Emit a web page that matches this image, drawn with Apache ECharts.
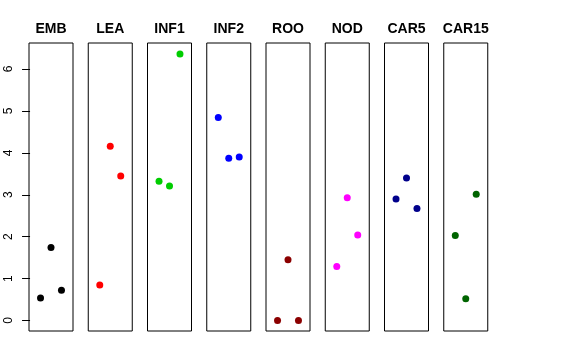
<!DOCTYPE html>
<html><head><meta charset="utf-8">
<script src="https://cdn.jsdelivr.net/npm/echarts@6/dist/echarts.min.js"></script>
<style>html,body{margin:0;padding:0;background:#fff}#c{width:576px;height:360px}</style>
</head><body><div id="c"></div>
<script>
const panels = ["EMB","LEA","INF1","INF2","ROO","NOD","CAR5","CAR15"];
const xPos = [1, 2, 3];
const EMB = [0.54, 1.74, 0.72];
const LEA = [0.85, 4.16, 3.45];
const INF1 = [3.32, 3.21, 6.36];
const INF2 = [4.84, 3.87, 3.90];
const ROO = [0.0, 1.45, 0.0];
const NOD = [1.29, 2.93, 2.04];
const CAR5 = [2.90, 3.40, 2.67];
const CAR15 = [2.03, 0.52, 3.01];
const yTicks = [0, 1, 2, 3, 4, 5, 6];
const colors = ["#000000","#FF0000","#00CD00","#0000FF","#8B0000","#FF00FF","#00008B","#006400"];
const values = [EMB, LEA, INF1, INF2, ROO, NOD, CAR5, CAR15];

const chart = echarts.init(document.getElementById('c'), null, {renderer:'canvas'});
const L0 = 29, pitch = 59.25, W = 44, TOP = 43, H = 288;
const grid = [], xAxis = [], yAxis = [], series = [], graphic = [];
panels.forEach((p, i) => {
  const left = L0 + i * pitch;
  grid.push({left: left, top: TOP, width: W, height: H, show: true, borderColor: '#000', borderWidth: 1, backgroundColor: 'transparent'});
  xAxis.push({gridIndex: i, type: 'value', min: -0.1, max: 4.1, show: false});
  yAxis.push({
    gridIndex: i, type: 'value', min: -0.25, max: 6.62, show: i === 0,
    splitLine: {show: false},
    axisLine: {show: false},
    axisTick: {show: true, inside: false, length: 8, lineStyle: {color: '#000'}, customValues: yTicks},
    axisLabel: {show: true, rotate: 90, margin: 14, color: '#000', fontSize: 12, fontFamily: 'Liberation Sans, Arial, sans-serif', customValues: yTicks}
  });
  series.push({
    type: 'scatter', xAxisIndex: i, yAxisIndex: i, symbol: 'circle', symbolSize: 7,
    itemStyle: {color: colors[i], opacity: 1},
    data: xPos.map((x, k) => [x, values[i][k]]),
    silent: true
  });
  graphic.push({type: 'text', x: left + W / 2, y: 29, style: {text: p, fill: '#000', font: 'bold 14px "Liberation Sans", Arial, sans-serif', textAlign: 'center', textVerticalAlign: 'middle'}});
});
chart.setOption({animation: false, backgroundColor: '#fff', grid, xAxis, yAxis, series, graphic});
</script></body></html>
